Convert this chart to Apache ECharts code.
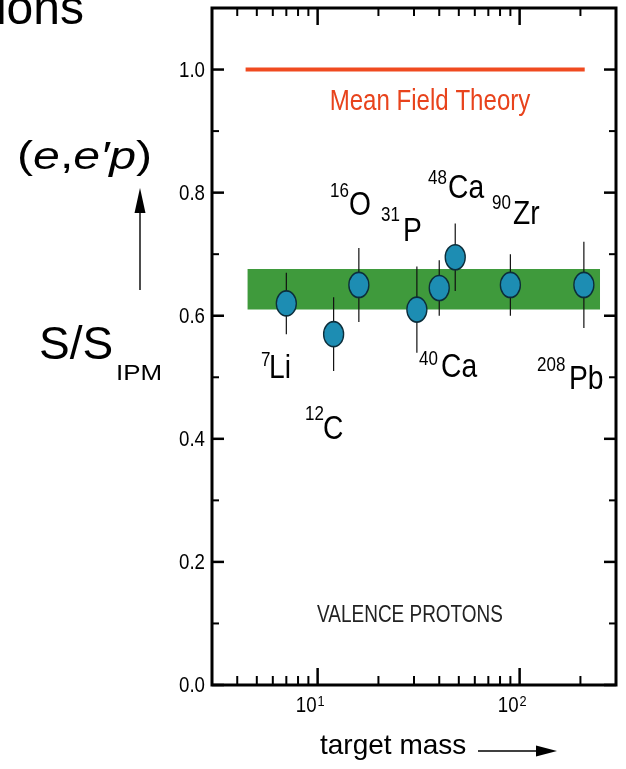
<!DOCTYPE html>
<html>
<head>
<meta charset="utf-8">
<script src="https://cdn.jsdelivr.net/npm/echarts@6/dist/echarts.min.js"></script>
<style>
  html, body { margin: 0; padding: 0; background: #ffffff; }
  #chart { width: 626px; height: 769px; }
</style>
</head>
<body>
<div id="chart"></div>
<script>
// Spectroscopic strength S/S_IPM from (e,e'p) on valence protons
const isotopeMass = ['7', '12', '16', '31', '40', '48', '90', '208'];
const isotopeSymbol = ['Li', 'C', 'O', 'P', 'Ca', 'Ca', 'Zr', 'Pb'];
const massNumber = [7, 12, 16, 31, 40, 48, 90, 208];
const strength = [0.62, 0.57, 0.65, 0.61, 0.645, 0.695, 0.65, 0.65];
const strengthErr = [0.05, 0.06, 0.06, 0.07, 0.045, 0.055, 0.05, 0.07];

// Mean field theory expectation
const meanFieldMass = [4.4, 210];
const meanFieldValue = [1.0, 1.0];

// Band of the average measured strength
const bandMass = [4.5, 250];
const bandRange = [0.61, 0.676];

// Axis ranges, ticks and tick labels
const xRange = [3, 300];
const yRange = [0, 1.1];
const xMajorTicks = [10, 100];
const xTickExponent = ['1', '2'];
const xMinorTicks = [4, 5, 6, 7, 8, 9, 20, 30, 40, 50, 60, 70, 80, 90, 200];
const yMajorTicks = [0, 0.2, 0.4, 0.6, 0.8, 1.0];
const yTickLabels = ['0.0', '0.2', '0.4', '0.6', '0.8', '1.0'];
const yMinorTicks = [0.1, 0.3, 0.5, 0.7, 0.9];

const SANS = '"Liberation Sans", Arial, Helvetica, sans-serif';
const CONDENSE = 0.84;   // horizontal squeeze giving the narrow Helvetica look

// Label placement for each isotope: [sup left, sup middle y, symbol left, symbol middle y]
const labelPlace = [
  [261, 360, 269, 368.5],
  [305, 414, 323, 429.5],
  [330, 191, 349, 205.5],
  [381, 215, 403, 231.5],
  [419, 359, 441, 367.5],
  [428, 178, 448, 188.5],
  [492, 203, 513, 214.5],
  [537, 365, 569, 379.5]
];

const chart = echarts.init(document.getElementById('chart'), null, { renderer: 'canvas' });

function narrowText(x, y, text, size, align, fill, scale) {
  return {
    type: 'text', x: x, y: y, scaleX: scale || CONDENSE,
    style: { text: text, font: size + 'px ' + SANS, fill: fill || '#000', textAlign: align, textVerticalAlign: 'middle' }
  };
}

function xTickSeries(values, lenBottom, lenTop, width) {
  return {
    type: 'custom',
    coordinateSystem: 'cartesian2d',
    silent: true,
    clip: false,
    z: 20,
    data: values.map(v => [v, yRange[0]]),
    renderItem: function (params, api) {
      const v = api.value(0);
      const b = api.coord([v, yRange[0]]);
      const t = api.coord([v, yRange[1]]);
      return {
        type: 'group',
        children: [
          { type: 'line', shape: { x1: b[0], y1: b[1], x2: b[0], y2: b[1] - lenBottom }, style: { stroke: '#000', lineWidth: width } },
          { type: 'line', shape: { x1: t[0], y1: t[1], x2: t[0], y2: t[1] + lenTop }, style: { stroke: '#000', lineWidth: width } }
        ]
      };
    }
  };
}

function yTickSeries(values, len, width) {
  return {
    type: 'custom',
    coordinateSystem: 'cartesian2d',
    silent: true,
    clip: false,
    z: 20,
    data: values.map(v => [xRange[0], v]),
    renderItem: function (params, api) {
      const v = api.value(1);
      const l = api.coord([xRange[0], v]);
      const r = api.coord([xRange[1], v]);
      return {
        type: 'group',
        children: [
          { type: 'line', shape: { x1: l[0], y1: l[1], x2: l[0] + len, y2: l[1] }, style: { stroke: '#000', lineWidth: width } },
          { type: 'line', shape: { x1: r[0], y1: r[1], x2: r[0] - len, y2: r[1] }, style: { stroke: '#000', lineWidth: width } }
        ]
      };
    }
  };
}

const graphics = [
  { type: 'text', x: 84, y: 10.5, style: { text: 'ions', font: '48px ' + SANS, fill: '#000', textAlign: 'right', textVerticalAlign: 'middle' } },
  {
    type: 'text', x: 17, y: 158, scaleX: 1.27,
    style: {
      text: '{n|(}{i|e}{n|,}{i|e\u2032p}{n|)}',
      textAlign: 'left', textVerticalAlign: 'middle', fill: '#000',
      rich: {
        n: { fontSize: 38, fontFamily: SANS, fill: '#000' },
        i: { fontSize: 38, fontFamily: SANS, fontStyle: 'italic', fill: '#000' }
      }
    }
  },
  { type: 'line', shape: { x1: 140, y1: 290, x2: 140, y2: 208 }, style: { stroke: '#000', lineWidth: 1.4 } },
  { type: 'polygon', shape: { points: [[140, 188], [134.5, 213], [145.5, 213]] }, style: { fill: '#000' } },
  { type: 'text', x: 39, y: 346, style: { text: 'S/S', font: '46px ' + SANS, fill: '#000', textAlign: 'left', textVerticalAlign: 'middle' } },
  { type: 'text', x: 116, y: 373.5, scaleX: 1.18, style: { text: 'IPM', font: '22px ' + SANS, fill: '#000', textAlign: 'left', textVerticalAlign: 'middle' } },
  { type: 'text', x: 320, y: 746, style: { text: 'target mass', font: '28px ' + SANS, fill: '#000', textAlign: 'left', textVerticalAlign: 'middle' } },
  { type: 'line', shape: { x1: 478, y1: 751, x2: 540, y2: 751 }, style: { stroke: '#000', lineWidth: 1.4 } },
  { type: 'polygon', shape: { points: [[557, 751], [536, 745.5], [536, 756.5]] }, style: { fill: '#000' } },
  narrowText(410, 615, 'VALENCE PROTONS', 24, 'center', '#222', 0.79),
  narrowText(430, 101.5, 'Mean Field Theory', 29, 'center', '#e8431c', 0.83)
];

isotopeMass.forEach(function (m, i) {
  const p = labelPlace[i];
  graphics.push(narrowText(p[0], p[1], m, 20, 'left', '#000', 0.85));
  graphics.push(narrowText(p[2], p[3], isotopeSymbol[i], 34, 'left', '#000', 0.83));
});

const option = {
  animation: false,
  backgroundColor: '#ffffff',
  grid: {
    left: 212, right: 10, top: 8, bottom: 84,
    show: true, borderColor: '#000', borderWidth: 3, backgroundColor: 'transparent'
  },
  xAxis: {
    type: 'log',
    logBase: 10,
    min: xRange[0],
    max: xRange[1],
    axisLine: { show: false },
    axisTick: { show: false },
    splitLine: { show: false },
    minorTick: { show: false },
    axisLabel: { show: false }
  },
  yAxis: {
    type: 'value',
    min: yRange[0],
    max: yRange[1],
    interval: 0.2,
    axisLine: { show: false },
    axisTick: { show: false },
    splitLine: { show: false },
    axisLabel: { show: false }
  },
  graphic: { elements: graphics },
  series: [
    {
      name: 'band',
      type: 'custom',
      coordinateSystem: 'cartesian2d',
      silent: true,
      z: 1,
      data: [[bandMass[0], bandRange[0], bandMass[1], bandRange[1]]],
      renderItem: function (params, api) {
        const a = api.coord([api.value(0), api.value(1)]);
        const b = api.coord([api.value(2), api.value(3)]);
        return {
          type: 'rect',
          shape: { x: a[0], y: b[1], width: b[0] - a[0], height: a[1] - b[1] },
          style: { fill: '#3f9a3c' }
        };
      }
    },
    {
      name: 'Mean Field Theory',
      type: 'line',
      z: 2,
      symbol: 'none',
      silent: true,
      lineStyle: { color: '#f04a20', width: 4 },
      data: meanFieldMass.map((m, i) => [m, meanFieldValue[i]])
    },
    {
      name: 'errors',
      type: 'custom',
      coordinateSystem: 'cartesian2d',
      silent: true,
      z: 3,
      data: massNumber.map((m, i) => [m, strength[i] - strengthErr[i], strength[i] + strengthErr[i]]),
      renderItem: function (params, api) {
        const lo = api.coord([api.value(0), api.value(1)]);
        const hi = api.coord([api.value(0), api.value(2)]);
        return {
          type: 'line',
          shape: { x1: lo[0], y1: lo[1], x2: hi[0], y2: hi[1] },
          style: { stroke: '#111', lineWidth: 1.2 }
        };
      }
    },
    {
      name: 'S/S_IPM',
      type: 'scatter',
      z: 4,
      symbol: 'circle',
      symbolSize: [20, 25],
      itemStyle: { color: '#1d8db3', borderColor: '#0c2d3a', borderWidth: 1.5, opacity: 1 },
      data: massNumber.map((m, i) => [m, strength[i]])
    },
    xTickSeries(xMinorTicks, 9, 8, 2),
    xTickSeries(xMajorTicks, 17, 17, 2.5),
    yTickSeries(yMajorTicks, 12, 2.5),
    yTickSeries(yMinorTicks, 7, 2),
    {
      // y tick labels placed from the value scale
      name: 'yLabels',
      type: 'custom',
      coordinateSystem: 'cartesian2d',
      silent: true,
      clip: false,
      z: 20,
      data: yMajorTicks.map(v => [xRange[0], v]),
      renderItem: function (params, api) {
        const p = api.coord([xRange[0], api.value(1)]);
        return narrowText(p[0] - 7, p[1] + 1, yTickLabels[params.dataIndex], 22, 'right', '#000', 0.85);
      }
    },
    {
      // decade labels 10^n on the log mass scale
      name: 'xLabels',
      type: 'custom',
      coordinateSystem: 'cartesian2d',
      silent: true,
      clip: false,
      z: 20,
      data: xMajorTicks.map(v => [v, yRange[0]]),
      renderItem: function (params, api) {
        const p = api.coord([api.value(0), yRange[0]]);
        return {
          type: 'group',
          children: [
            narrowText(p[0] - 1, p[1] + 21, '10', 22, 'right', '#000', 0.85),
            narrowText(p[0], p[1] + 16.5, xTickExponent[params.dataIndex], 15, 'left', '#000', 0.85)
          ]
        };
      }
    }
  ]
};

chart.setOption(option);
</script>
</body>
</html>
